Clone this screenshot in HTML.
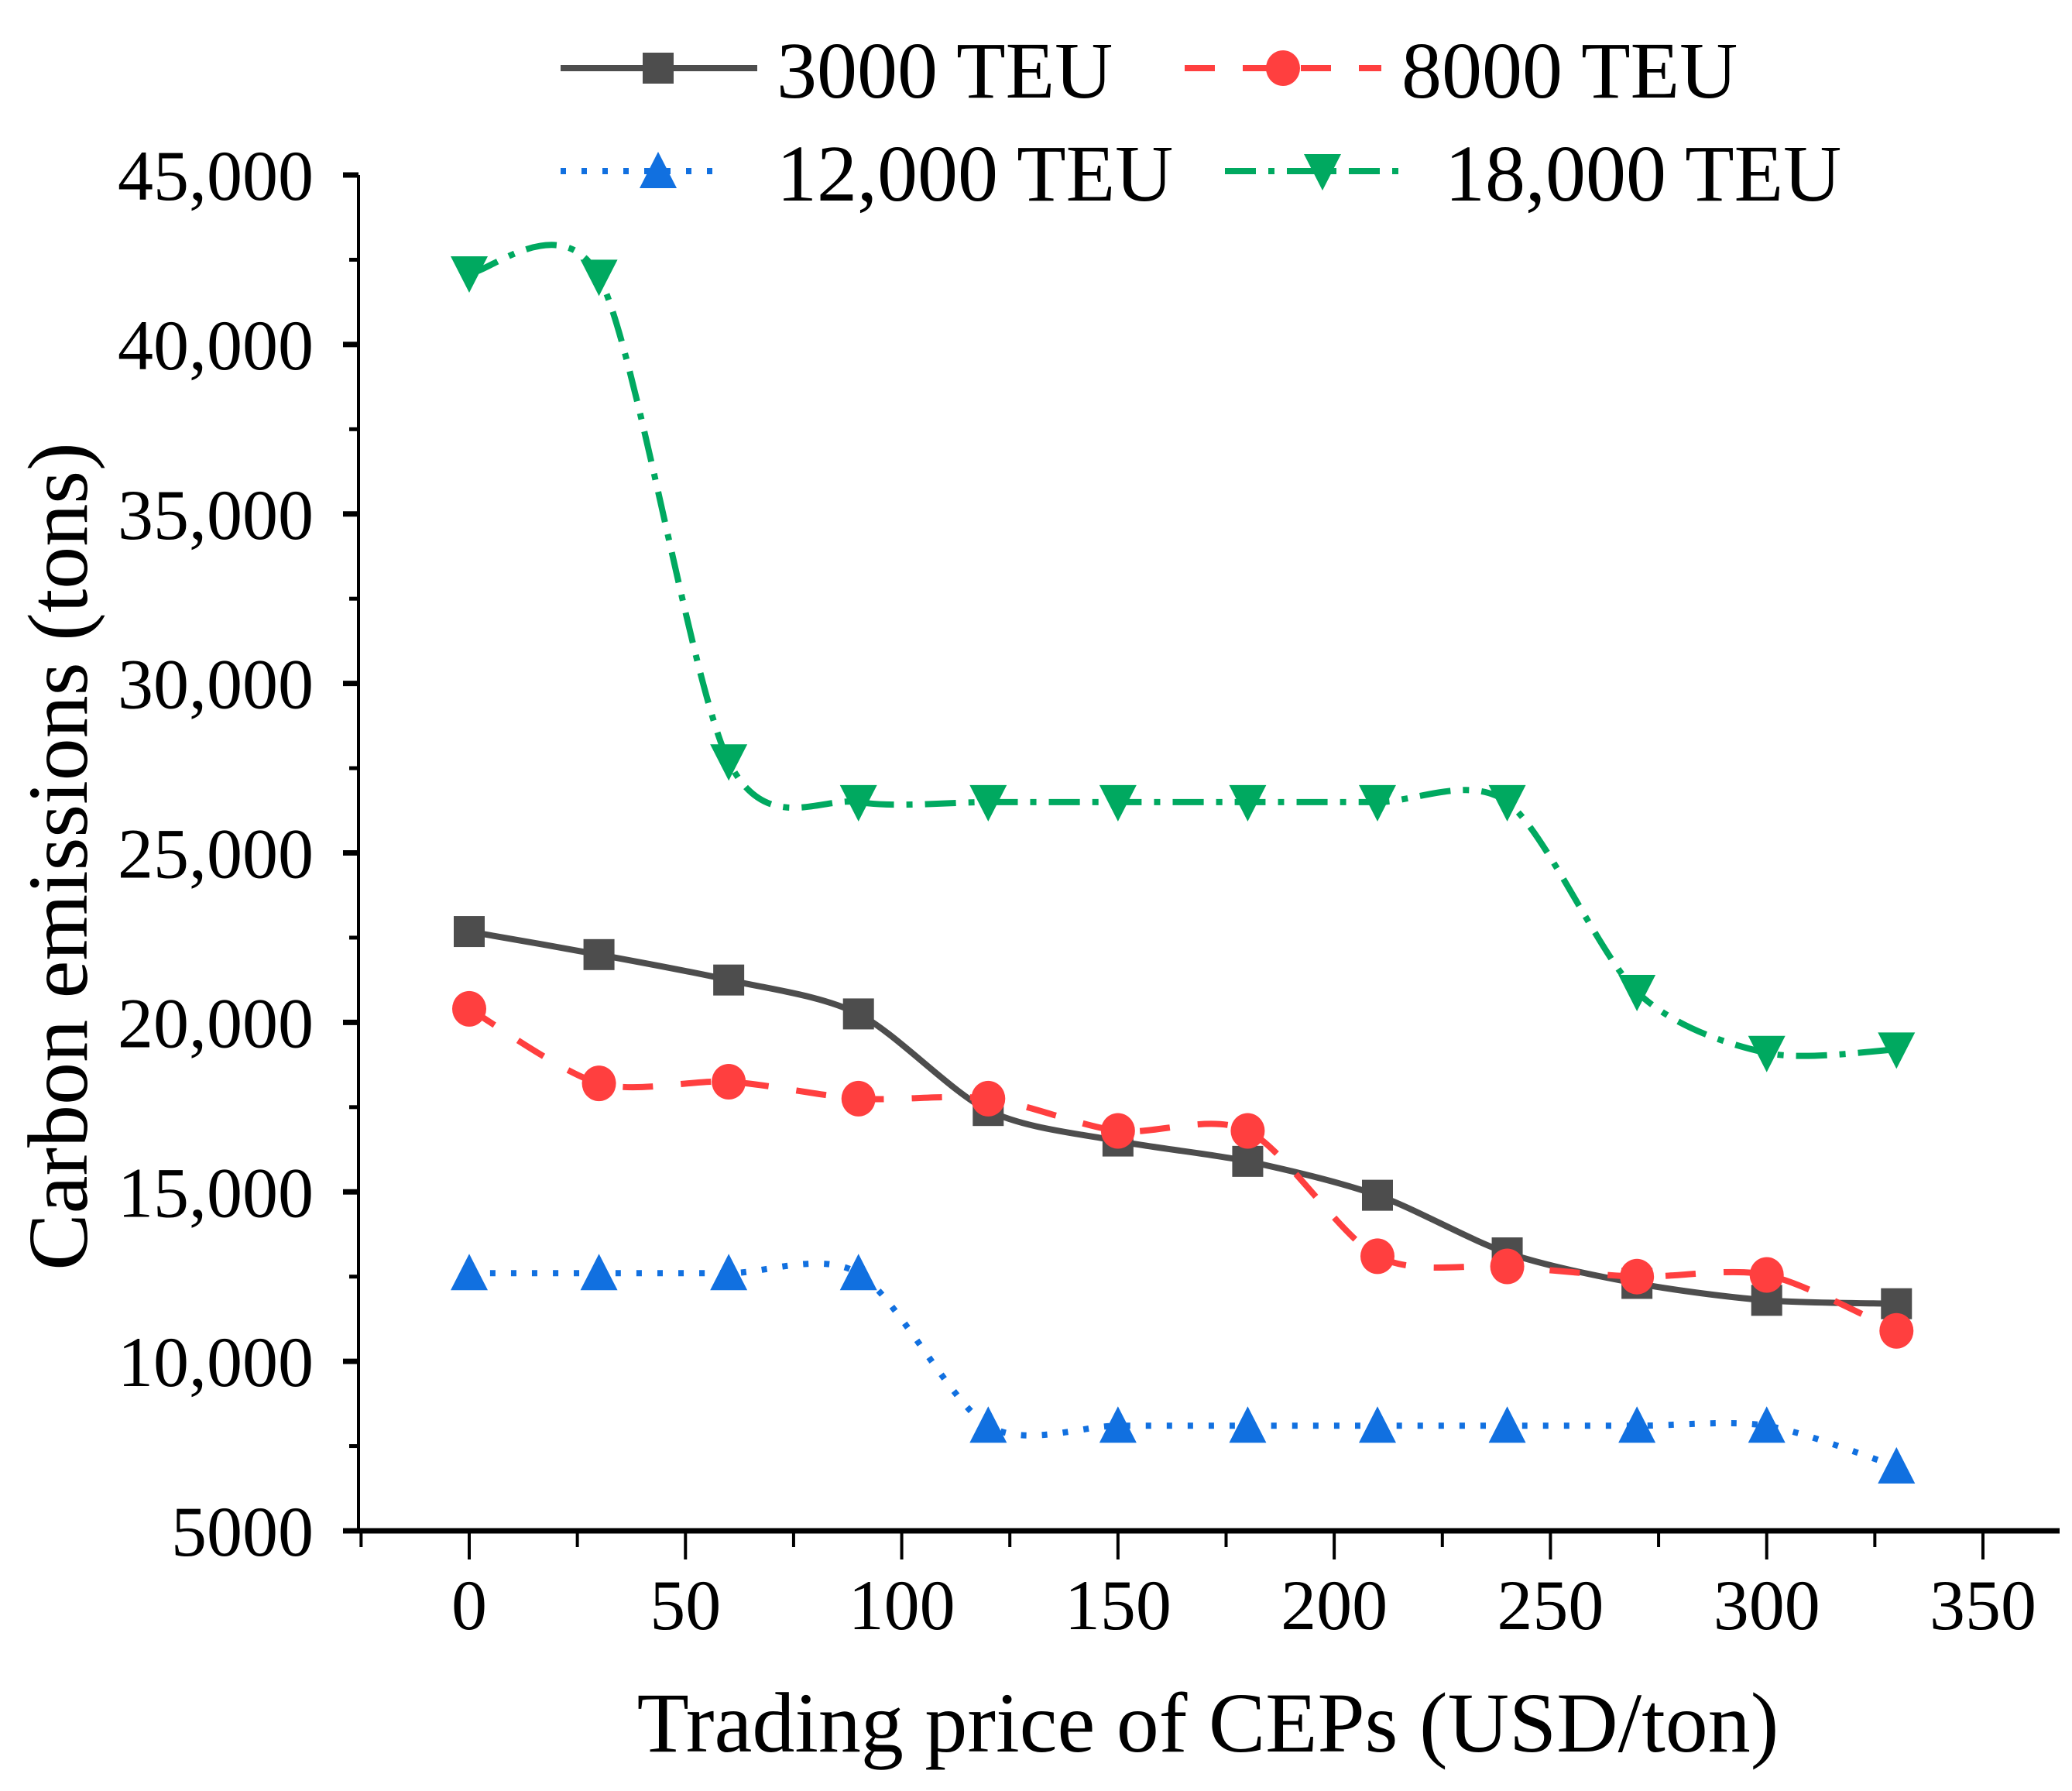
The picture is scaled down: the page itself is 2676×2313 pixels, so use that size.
<!DOCTYPE html>
<html><head><meta charset="utf-8"><style>
html,body{margin:0;padding:0;background:#fff;}
svg{display:block;font-family:"Liberation Serif",serif;}
</style></head><body>
<svg id="chart" width="2676" height="2313" viewBox="0 0 2676 2313" xmlns="http://www.w3.org/2000/svg">
<rect width="2676" height="2313" fill="#fff"/>
<g id="axes"></g>
<g id="series"></g>
<g id="legend"></g>
<text x="1560" y="2262" font-size="110" text-anchor="middle">Trading price of CEPs (USD/ton)</text>
<text transform="translate(112,1106) rotate(-90)" font-size="110" text-anchor="middle">Carbon emissions (tons)</text>
</svg>
<script>
const xValues=[0,30,60,90,120,150,180,210,240,270,300,330];
const s3000=[22680,22000,21250,20250,17400,16500,15900,14900,13200,12300,11800,11700];
const s8000=[20400,18200,18250,17750,17750,16800,16800,13100,12800,12500,12550,10900];
const s12000=[12600,12600,12600,12600,8100,8100,8100,8100,8100,8100,8100,6900];
const s18000=[42100,42000,27700,26500,26500,26500,26500,26500,26500,20900,19100,19200];
const xTicks=[0,50,100,150,200,250,300,350];
const yTicks=[5000,10000,15000,20000,25000,30000,35000,40000,45000];
const yTickLabels=["5000","10,000","15,000","20,000","25,000","30,000","35,000","40,000","45,000"];
const seriesNames=["3000 TEU","8000 TEU","12,000 TEU","18,000 TEU"];

const NS="http://www.w3.org/2000/svg";
const X0=606,X1=2561,Y0=1977,Y1=226;
const sx=v=>X0+(v-0)*(X1-X0)/350;
const sy=v=>Y0-(v-5000)*(Y0-Y1)/40000;
function mk(tag,attrs,parent){const e=document.createElementNS(NS,tag);for(const k in attrs)e.setAttribute(k,attrs[k]);parent.appendChild(e);return e;}
const axes=document.getElementById('axes');
let ax=mk('line',{x1:463,y1:Y0,x2:2660,y2:Y0,stroke:'#000','stroke-width':7},axes);


let ay=mk('line',{x1:463,y1:Y0+3,x2:463,y2:Y1,stroke:'#000','stroke-width':4},axes);


for(let v=-25;v<=350;v+=25){
  const major=v%50===0;
  const t=mk('line',{x1:sx(v),y1:Y0,x2:sx(v),y2:Y0+(major?37:21),stroke:'#000','stroke-width':4},axes);
  
  
}
xTicks.forEach(v=>{
  const t=mk('text',{x:sx(v),y:2104,'font-size':92,'text-anchor':'middle'},axes);
  t.textContent=String(v);
  
  
});
for(let v=5000;v<=45000;v+=2500){
  const major=v%5000===0;
  const t=mk('line',{x1:463,y1:sy(v),x2:463-(major?20:12),y2:sy(v),stroke:'#000','stroke-width':major?7:5},axes);
  
  
}
yTicks.forEach((v,i)=>{
  const t=mk('text',{x:405,y:sy(v)+32,'font-size':92,'text-anchor':'end'},axes);
  t.textContent=yTickLabels[i];
  
  
});
function smooth(pts){
  let d=`M${pts[0][0]},${pts[0][1]}`;
  for(let i=0;i<pts.length-1;i++){
    const p0=pts[Math.max(0,i-1)],p1=pts[i],p2=pts[i+1],p3=pts[Math.min(pts.length-1,i+2)];
    const c1=[p1[0]+(p2[0]-p0[0])/7,p1[1]+(p2[1]-p0[1])/7];
    const c2=[p2[0]-(p3[0]-p1[0])/7,p2[1]-(p3[1]-p1[1])/7];
    d+=` C${c1[0]},${c1[1]} ${c2[0]},${c2[1]} ${p2[0]},${p2[1]}`;
  }
  return d;
}
function marker(type,x,y,color,parent){
  let e;
  if(type==='square') e=mk('rect',{x:x-20,y:y-20,width:40,height:40,fill:color},parent);
  else if(type==='circle') e=mk('ellipse',{cx:x,cy:y,rx:22,ry:23,fill:color},parent);
  else if(type==='up') e=mk('polygon',{points:`${x},${y-25} ${x+24},${y+22} ${x-24},${y+22}`,fill:color},parent);
  else e=mk('polygon',{points:`${x},${y+25} ${x+24},${y-22} ${x-24},${y-22}`,fill:color},parent);
  return e;
}
const cfg=[
 {data:s3000,color:'#4d4d4d',dash:'',m:'square',w:8},
 {data:s8000,color:'#ff3f3f',dash:'39 36',m:'circle',w:8},
 {data:s12000,color:'#1170e0',dash:'7 20',m:'up',w:8},
 {data:s18000,color:'#00a960',dash:'40 16 8 16',m:'down',w:8}
];
const sg=document.getElementById('series');
cfg.forEach((c,si)=>{
  const g=mk('g',{},sg);
  
  
  const pts=c.data.map((v,i)=>[sx(xValues[i]),sy(v)]);
  const p=mk('path',{d:smooth(pts),fill:'none',stroke:c.color,'stroke-width':c.w,'stroke-dasharray':c.dash},g);
  
  
  pts.forEach(pt=>{
    const m=marker(c.m,pt[0],pt[1],c.color,g);
    
    
  });
});
const lg=document.getElementById('legend');
const legendItems=[
 {i:0,lx1:724,lx2:978,mx:850,y:88,tx:1003},
 {i:1,lx1:1530,lx2:1784,mx:1657,y:88,tx:1810},
 {i:2,lx1:724,lx2:936,mx:850,y:221,tx:1003},
 {i:3,lx1:1582,lx2:1814,mx:1708,y:221,tx:1866}
];
legendItems.forEach(L=>{
  const c=cfg[L.i];
  const g=mk('g',{},lg);
  
  
  mk('line',{x1:L.lx1,y1:L.y,x2:L.lx2,y2:L.y,stroke:c.color,'stroke-width':c.w,'stroke-dasharray':c.dash},g);
  marker(c.m,L.mx,L.y,c.color,g);
  const t=mk('text',{x:L.tx,y:L.y+38,'font-size':104},g);
  t.textContent=seriesNames[L.i];
});
</script>
</body></html>
